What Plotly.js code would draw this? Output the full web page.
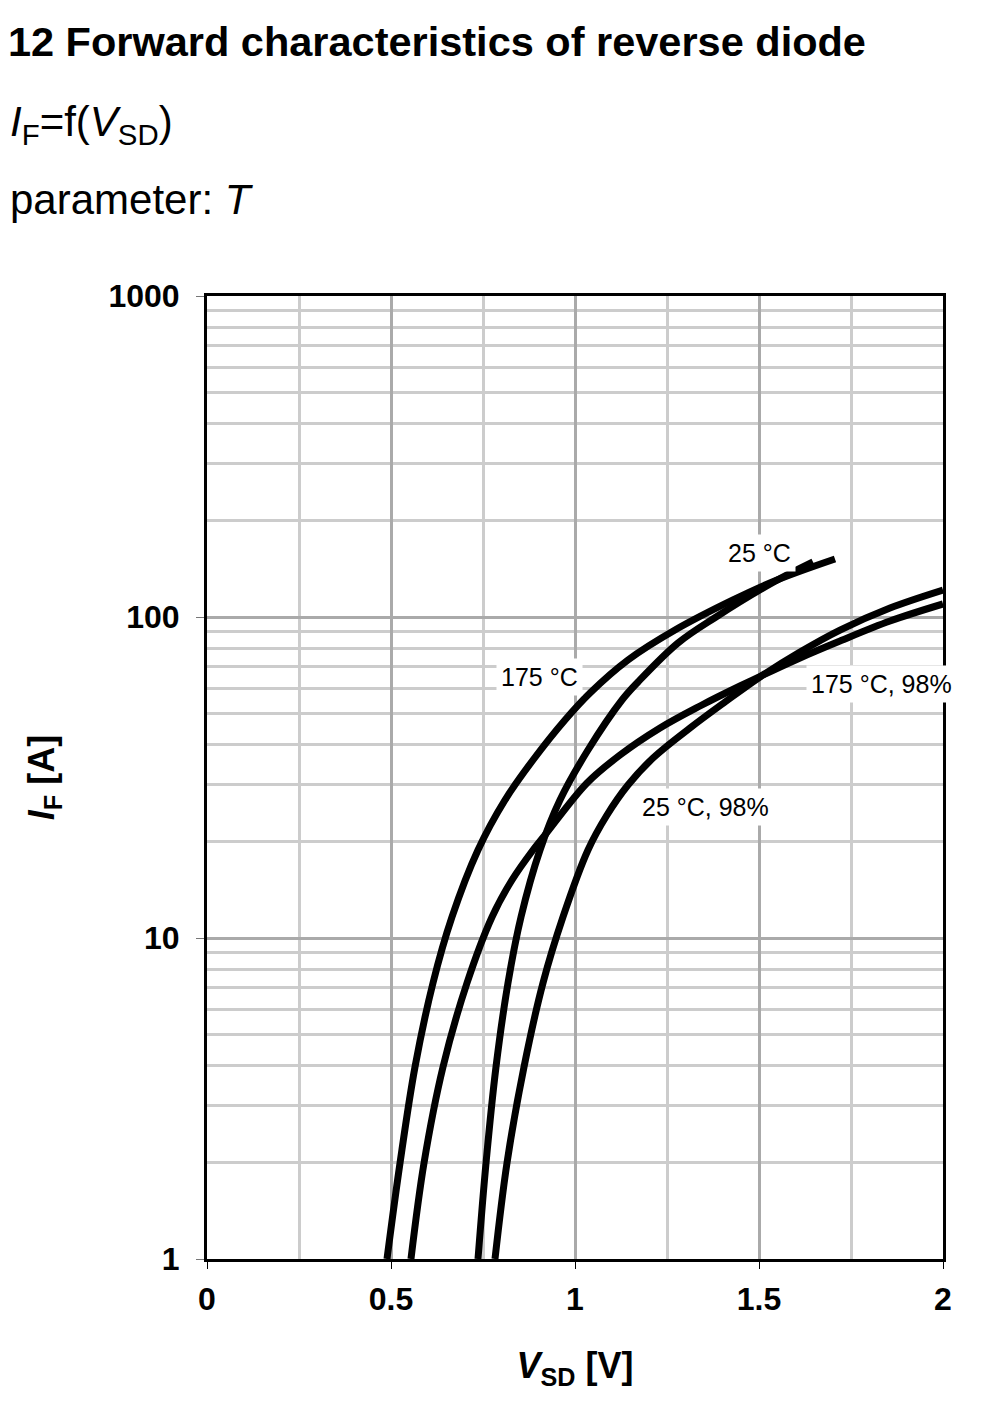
<!DOCTYPE html>
<html>
<head>
<meta charset="utf-8">
<script src="https://cdn.plot.ly/plotly-3.0.1.min.js"></script>
<style>html,body{margin:0;padding:0;background:#fff;}#chart{width:987px;height:1417px;}</style>
</head>
<body>
<div id="chart"></div>
<script>
// Data (VSD in V, IF in A)
const v175 = [0.4891, 0.5245, 0.5652, 0.6141, 0.6658, 0.7364, 0.8098, 0.8859, 0.9728, 1.0408, 1.1440, 1.2717, 1.4293, 1.5489, 1.7065];
const i175 = [1.000, 1.991, 3.964, 7.241, 11.63, 18.80, 26.91, 35.85, 47.77, 57.98, 73.46, 91.07, 113.0, 130.4, 151.6];

const v25 = [0.7364, 0.7582, 0.7853, 0.8179, 0.8533, 0.9049, 0.9592, 1.0353, 1.1277, 1.1712, 1.2799, 1.3832, 1.5353, 1.6467];
const i25 = [1.000, 1.991, 3.964, 7.241, 11.63, 18.80, 26.91, 38.52, 55.14, 62.74, 82.99, 100.0, 127.6, 148.4];

const v175_98 = [0.5543, 0.5897, 0.6413, 0.7065, 0.7745, 0.8288, 0.8859, 0.9185, 1.0326, 1.1223, 1.2310, 1.3397, 1.4484, 1.6114, 1.7201, 1.8560, 2.0];
const i175_98 = [1.000, 1.991, 3.964, 7.241, 11.63, 15.16, 18.80, 20.94, 30.40, 37.16, 45.11, 52.82, 60.95, 74.55, 84.19, 97.16, 109.8];

const v25_98 = [0.7826, 0.8152, 0.8614, 0.9130, 0.9674, 1.0353, 1.0870, 1.1440, 1.2120, 1.3125, 1.4076, 1.5027, 1.6114, 1.7201, 1.8560, 2.0];
const i25_98 = [1.000, 1.991, 3.964, 7.241, 11.63, 18.80, 24.16, 29.96, 36.37, 45.11, 54.36, 65.04, 77.80, 91.08, 106.7, 121.4];

const xTickVals = [0, 0.5, 1, 1.5, 2];
const xTickText = ['0', '0.5', '1', '1.5', '2'];
const yTickVals = [1, 10, 100, 1000];
const yTickText = ['1', '10', '100', '1000'];

const seriesNames = ['175 °C', '25 °C', '175 °C, 98%', '25 °C, 98%'];

const FONT = 'Liberation Sans, Arial, sans-serif';
const lineStyle = {color: '#000000', width: 7, shape: 'spline', smoothing: 1.0};

const traces = [
  {x: v175, y: i175, name: seriesNames[0]},
  {x: v25, y: i25, name: seriesNames[1]},
  {x: v175_98, y: i175_98, name: seriesNames[2]},
  {x: v25_98, y: i25_98, name: seriesNames[3]}
].map(t => Object.assign(t, {type: 'scatter', mode: 'lines', line: lineStyle, showlegend: false, hoverinfo: 'skip'}));

const labelFont = {family: FONT, size: 25, color: '#000'};
function lab(text, x, y) {
  return {text: text, xref: 'paper', yref: 'paper', x: x, y: y, xanchor: 'center', yanchor: 'middle',
          showarrow: false, font: labelFont, bgcolor: '#ffffff', borderpad: 4};
}

const layout = {
  width: 987, height: 1417,
  paper_bgcolor: '#ffffff', plot_bgcolor: '#ffffff',
  margin: {l: 207, r: 44, t: 296, b: 158, pad: 0},
  font: {family: FONT, color: '#000'},
  title: {
    text: '<b>12 Forward characteristics of reverse diode</b>',
    font: {family: FONT, size: 41.5, color: '#000'},
    xref: 'container', yref: 'container', x: 0.008, xanchor: 'left', y: 0.9704, yanchor: 'middle'
  },
  xaxis: {
    range: [0, 2], tickvals: xTickVals, ticktext: xTickText,
    showline: true, linecolor: '#000', linewidth: 3, mirror: true,
    ticks: 'outside', ticklen: 7, tickwidth: 1, tickcolor: '#000',
    tickfont: {family: FONT, size: 32, color: '#000', weight: 'bold'},
    ticklabelstandoff: 3,
    showgrid: true, gridcolor: '#aaaaaa', gridwidth: 3,
    minor: {dtick: 0.25, showgrid: true, gridcolor: '#cccccc', gridwidth: 3, ticks: ''},
    zeroline: false,
    title: {text: '<b><i>V</i><sub>SD</sub> [V]</b>', font: {family: FONT, size: 36, color: '#000'}, standoff: 37}
  },
  yaxis: {
    type: 'log', range: [0, 3], tickvals: yTickVals, ticktext: yTickText,
    showline: true, linecolor: '#000', linewidth: 3, mirror: true,
    ticks: 'outside', ticklen: 8, tickwidth: 1, tickcolor: '#777',
    tickfont: {family: FONT, size: 32, color: '#000', weight: 'bold'},
    ticklabelstandoff: 10,
    showgrid: true, gridcolor: '#aaaaaa', gridwidth: 3,
    minor: {dtick: 'D1', showgrid: true, gridcolor: '#cccccc', gridwidth: 3, ticks: ''},
    zeroline: false,
    title: {text: '<b><i>I</i><sub>F</sub> [A]</b>', font: {family: FONT, size: 36, color: '#000'}, standoff: 43}
  },
  annotations: [
    lab(seriesNames[1], 0.75, 0.733),
    lab(seriesNames[0], 0.4524, 0.6044),
    lab(seriesNames[2], 0.9158, 0.5971),
    lab(seriesNames[3], 0.6773, 0.4689),
    {text: '<i>I</i><sub>F</sub>=f(<i>V</i><sub>SD</sub>)', xref: 'paper', yref: 'paper', x: -0.2704, y: 1.1776,
     xanchor: 'left', yanchor: 'middle', showarrow: false, font: {family: FONT, size: 42, color: '#000'}},
    {text: 'parameter: <i>T</i>', xref: 'paper', yref: 'paper', x: -0.2704, y: 1.0997,
     xanchor: 'left', yanchor: 'middle', showarrow: false, font: {family: FONT, size: 42, color: '#000'}}
  ]
};

Plotly.newPlot('chart', traces, layout, {staticPlot: true, displayModeBar: false});
</script>
</body>
</html>
